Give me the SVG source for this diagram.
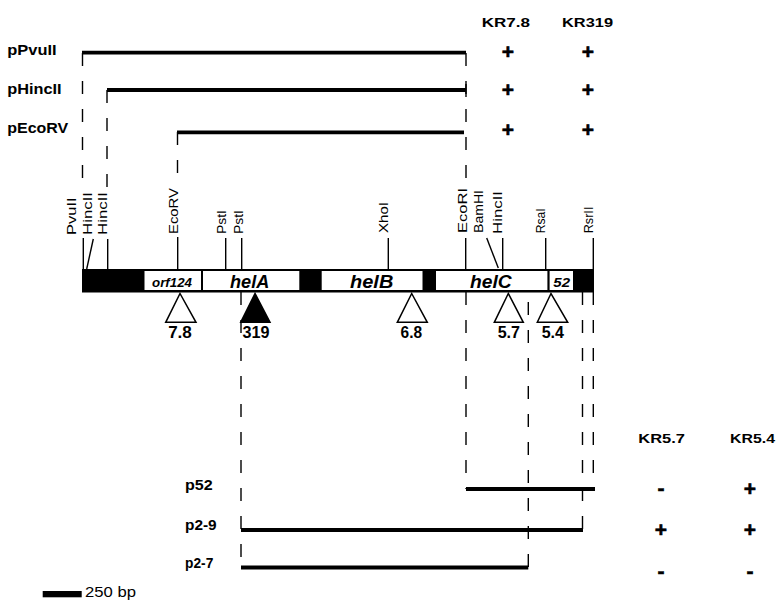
<svg xmlns="http://www.w3.org/2000/svg" width="776" height="601" viewBox="0 0 776 601">
<style>
.lbl{font-family:"Liberation Sans",Arial,sans-serif;font-weight:bold;fill:#000}
.site{font-family:"Liberation Sans",Arial,sans-serif;font-size:13.5px;fill:#000}
.gene{font-family:"Liberation Sans",Arial,sans-serif;font-weight:bold;font-style:italic;fill:#000;text-anchor:middle}
.sign{font-family:"Liberation Sans",Arial,sans-serif;font-weight:bold;font-size:21px;fill:#000;stroke:#000;stroke-width:0.6;text-anchor:middle}
.num{font-family:"Liberation Sans",Arial,sans-serif;font-weight:bold;font-size:16.5px;fill:#000;text-anchor:middle}
.clone{stroke:#000;stroke-width:3.8;fill:none}
.dash{stroke:#000;stroke-width:1.4;fill:none;stroke-dasharray:13 15}
.tick{stroke:#000;stroke-width:1.4;fill:none}
.tri{stroke:#000;stroke-width:1.5;fill:#fff;stroke-linejoin:miter}
</style>
<rect width="776" height="601" fill="#fff"/>

<g id="connectors">
  <path class="dash" d="M82.5 53 V193"/>
  <path class="dash" d="M107 90 V191"/>
  <path class="dash" d="M177.5 132 V187"/>
  <path class="dash" d="M466 53 V188"/>
  <path class="dash" d="M241 292 V567.5"/>
  <path class="dash" d="M466 292 V489"/>
  <path class="dash" d="M528.3 302 V567.5"/>
  <path class="dash" d="M582.5 292 V530"/>
  <path class="dash" d="M593.3 292 V489"/>
</g>

<g id="pPvuII">
  <text class="lbl" x="7.3" y="55" font-size="15" textLength="49.3" lengthAdjust="spacingAndGlyphs">pPvuII</text>
  <path class="clone" d="M82 52.7 H466"/>
  <text class="sign" x="508" y="59">+</text>
  <text class="sign" x="588" y="59">+</text>
</g>
<g id="pHincII">
  <text class="lbl" x="7.3" y="94" font-size="15" textLength="54.3" lengthAdjust="spacingAndGlyphs">pHincII</text>
  <path class="clone" d="M107 90 H466"/>
  <path class="tick" d="M466 84 V97"/>
  <text class="sign" x="508" y="97.4">+</text>
  <text class="sign" x="588" y="97.4">+</text>
</g>
<g id="pEcoRV">
  <text class="lbl" x="7.3" y="133" font-size="15" textLength="61" lengthAdjust="spacingAndGlyphs">pEcoRV</text>
  <path class="clone" d="M177 132.3 H464"/>
  <text class="sign" x="508" y="137.4">+</text>
  <text class="sign" x="588" y="137.4">+</text>
</g>
<g id="header-top">
  <text class="lbl" x="481.7" y="27.3" font-size="13" textLength="48.3" lengthAdjust="spacingAndGlyphs">KR7.8</text>
  <text class="lbl" x="562" y="27.3" font-size="13" textLength="51" lengthAdjust="spacingAndGlyphs">KR319</text>
</g>

<g id="sites">
  <path class="tick" d="M83.3 238 V269"/>
  <path class="tick" d="M93.3 239 L86.7 269"/>
  <path class="tick" d="M107.7 239 V269"/>
  <path class="tick" d="M177.7 237 V269"/>
  <path class="tick" d="M225.7 238 V269"/>
  <path class="tick" d="M241.7 238 V269"/>
  <path class="tick" d="M388.3 238 V269"/>
  <path class="tick" d="M465.7 238 V269"/>
  <path class="tick" d="M486.7 238 L498.3 268"/>
  <path class="tick" d="M502.7 238 V269"/>
  <path class="tick" d="M545.7 238 V269"/>
  <path class="tick" d="M593.3 238 V269"/>
  <text class="site" transform="translate(76,235) rotate(-90)" textLength="37.7" lengthAdjust="spacingAndGlyphs">PvuII</text>
  <text class="site" transform="translate(91.7,235) rotate(-90)" textLength="43" lengthAdjust="spacingAndGlyphs">HincII</text>
  <text class="site" transform="translate(106.7,235) rotate(-90)" textLength="43" lengthAdjust="spacingAndGlyphs">HincII</text>
  <text class="site" transform="translate(178.3,234) rotate(-90)" textLength="46" lengthAdjust="spacingAndGlyphs">EcoRV</text>
  <text class="site" transform="translate(225.7,234) rotate(-90)" textLength="24" lengthAdjust="spacingAndGlyphs">PstI</text>
  <text class="site" transform="translate(242.7,234) rotate(-90)" textLength="24" lengthAdjust="spacingAndGlyphs">PstI</text>
  <text class="site" transform="translate(388.3,233) rotate(-90)" textLength="31" lengthAdjust="spacingAndGlyphs">XhoI</text>
  <text class="site" transform="translate(466.7,233) rotate(-90)" textLength="45" lengthAdjust="spacingAndGlyphs">EcoRI</text>
  <text class="site" transform="translate(483.3,233) rotate(-90)" textLength="43" lengthAdjust="spacingAndGlyphs">BamHI</text>
  <text class="site" transform="translate(501.7,234) rotate(-90)" textLength="43" lengthAdjust="spacingAndGlyphs">HincII</text>
  <text class="site" transform="translate(545,233.3) rotate(-90)" textLength="25" lengthAdjust="spacingAndGlyphs">RsaI</text>
  <text class="site" transform="translate(593.3,233.3) rotate(-90)" textLength="26.7" lengthAdjust="spacingAndGlyphs">RsrII</text>
</g>

<g id="map">
  <rect x="82" y="269" width="512" height="23.5" fill="#000"/>
  <rect x="144.5" y="271" width="56.5" height="19" fill="#fff"/>
  <rect x="203" y="271" width="96.3" height="19" fill="#fff"/>
  <rect x="321.7" y="271" width="100.8" height="19" fill="#fff"/>
  <rect x="436" y="271" width="111.4" height="19" fill="#fff"/>
  <rect x="549.6" y="271" width="23.4" height="19" fill="#fff"/>
  <text class="gene" x="172" y="286.7" font-size="13" textLength="40" lengthAdjust="spacingAndGlyphs">orf124</text>
  <text class="gene" x="249.7" y="287.7" font-size="17.5" textLength="39.3" lengthAdjust="spacingAndGlyphs">helA</text>
  <text class="gene" x="371.7" y="287.5" font-size="17.5" textLength="43.3" lengthAdjust="spacingAndGlyphs">helB</text>
  <text class="gene" x="490.8" y="287.5" font-size="17.5" textLength="41.7" lengthAdjust="spacingAndGlyphs">helC</text>
  <text class="gene" x="561.7" y="286.7" font-size="12.5" textLength="16.7" lengthAdjust="spacingAndGlyphs">52</text>
</g>

<g id="insertions">
  <polygon class="tri" points="180,293.5 165.7,322.3 196,322.3"/>
  <polygon class="tri" points="255,293.5 240.7,322.3 270,322.3" style="fill:#000"/>
  <polygon class="tri" points="411.7,293.5 397.3,322.3 427.3,322.3"/>
  <polygon class="tri" points="508.3,293.5 494.3,322.3 523.3,322.3"/>
  <polygon class="tri" points="551,293.5 537.3,322.3 567.7,322.3"/>
  <text class="num" x="180" y="337.5" textLength="23.7" lengthAdjust="spacingAndGlyphs">7.8</text>
  <text class="num" x="256" y="337.5" textLength="27" lengthAdjust="spacingAndGlyphs">319</text>
  <text class="num" x="411.3" y="338" textLength="21.5" lengthAdjust="spacingAndGlyphs">6.8</text>
  <text class="num" x="508.8" y="338" textLength="22.3" lengthAdjust="spacingAndGlyphs">5.7</text>
  <text class="num" x="552.8" y="338" textLength="22.3" lengthAdjust="spacingAndGlyphs">5.4</text>
</g>

<g id="header-bottom">
  <text class="lbl" x="638.3" y="443.3" font-size="13" textLength="46.7" lengthAdjust="spacingAndGlyphs">KR5.7</text>
  <text class="lbl" x="730" y="443.3" font-size="13" textLength="45" lengthAdjust="spacingAndGlyphs">KR5.4</text>
</g>
<g id="p52">
  <text class="lbl" x="185" y="489.5" font-size="14" textLength="27.7" lengthAdjust="spacingAndGlyphs">p52</text>
  <path class="clone" d="M466 489 H595"/>
  <text class="sign" x="661" y="494.8">-</text>
  <text class="sign" x="750" y="496.4">+</text>
</g>
<g id="p2-9">
  <text class="lbl" x="185" y="530" font-size="14" textLength="31.7" lengthAdjust="spacingAndGlyphs">p2-9</text>
  <path class="clone" d="M241 530 H583"/>
  <text class="sign" x="661" y="537.4">+</text>
  <text class="sign" x="750" y="537.4">+</text>
</g>
<g id="p2-7">
  <text class="lbl" x="185" y="568.3" font-size="14" textLength="28.3" lengthAdjust="spacingAndGlyphs">p2-7</text>
  <path class="clone" d="M241 567.5 H528.3"/>
  <text class="sign" x="661" y="577.5">-</text>
  <text class="sign" x="750" y="577.5">-</text>
</g>

<g id="scale-bar">
  <rect x="42.7" y="591" width="39" height="6.3" fill="#000"/>
  <text x="85" y="597.3" font-family="Liberation Sans, Arial, sans-serif" font-size="14" textLength="51" lengthAdjust="spacingAndGlyphs">250 bp</text>
</g>
</svg>
